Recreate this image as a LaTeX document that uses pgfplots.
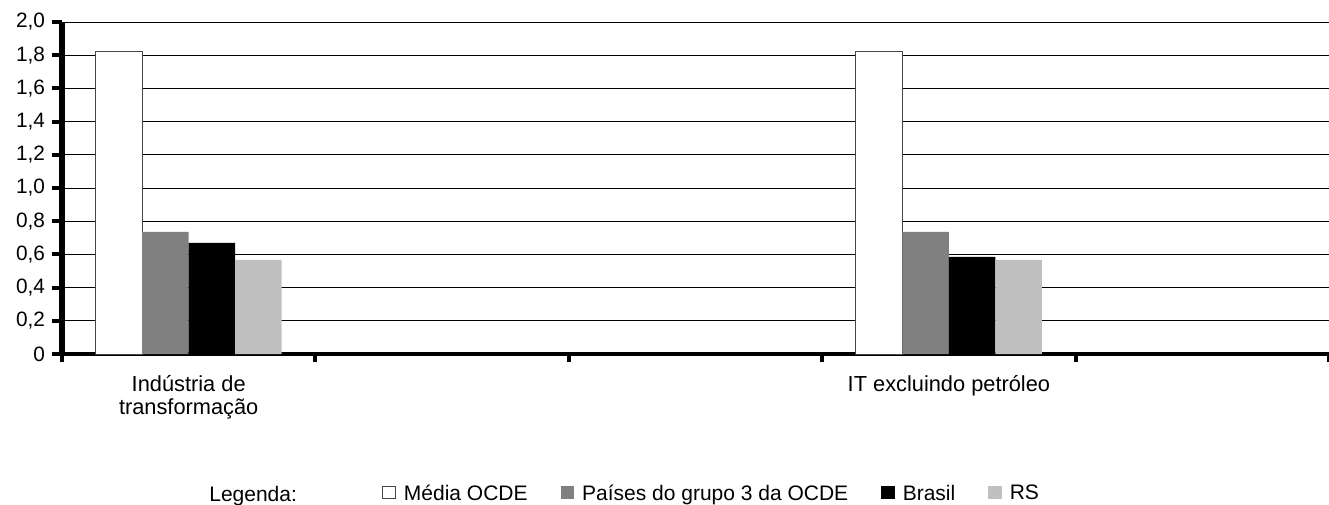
\documentclass[border=0pt]{standalone}
\usepackage{fontspec}
\setmainfont{Liberation Sans}
\usepackage{pgfplots}
\pgfplotsset{compat=1.18}
\definecolor{gA}{RGB}{128,128,128}
\definecolor{gB}{RGB}{192,192,192}
\definecolor{edgeC}{RGB}{70,70,70}
\begin{document}
\begin{tikzpicture}
\useasboundingbox (-31pt,-75pt) rectangle (633.5pt,177pt);
\begin{axis}[
  at={(0pt,0pt)}, anchor=south west,
  scale only axis, width=633.5pt, height=166pt,
  xmin=0, xmax=5, ymin=0, ymax=2,
  enlargelimits=false, clip=false,
  axis x line=bottom, axis y line=left,
  x axis line style={-, line width=2.25pt, black},
  y axis line style={-, line width=3pt, black},
  ybar=0pt, bar width=23.25pt,
  xtick={0.5,3.5},
  xticklabels={{Indústria de\\transformação},{IT excluindo petróleo}},
  x tick label style={align=center, yshift=-2.3pt, font=\fontsize{10.9}{11.2}\selectfont},
  major x tick style={draw=none},
  minor xtick={0,1,2,3,4,5},
  minor tick length=4pt,
  minor x tick style={line width=2pt, black},
  xtick align=outside, ytick align=outside,
  ytick={0,0.2,...,2.01},
  yticklabels={0,{0,2},{0,4},{0,6},{0,8},{1,0},{1,2},{1,4},{1,6},{1,8},{2,0}},
  y tick label style={font=\fontsize{10.4}{12}\selectfont},
  major y tick style={line width=2pt, black},
  major tick length=5pt,
  ymajorgrids,
  grid style={line width=0.5pt, black},
  legend columns=-1,
  legend style={draw=none, fill=none, inner sep=0pt, font=\fontsize{10.5}{12}\selectfont,
    at={(rel axis cs:0.2526,-0.4217)}, anchor=west,
    /tikz/every odd column/.append style={column sep=2pt},
    /tikz/every even column/.append style={column sep=14.5pt}},
]
\addplot[fill=white, draw=edgeC, line width=0.5pt,
  legend image code/.code={\draw[draw=edgeC, line width=0.5pt, fill=white] (0.25pt,-2.45pt) rectangle (6.5pt,3.8pt);}]
  coordinates {(0.5,1.82) (3.5,1.82)};
\addlegendentry{Média OCDE}
\addplot[fill=gA, draw=none,
  legend image code/.code={\fill[gA] (0pt,-2.7pt) rectangle (6.75pt,4.05pt);}]
  coordinates {(0.5,0.735) (3.5,0.735)};
\addlegendentry{Países do grupo 3 da OCDE}
\addplot[fill=black, draw=none,
  legend image code/.code={\fill[black] (0pt,-2.7pt) rectangle (6.75pt,4.05pt);}]
  coordinates {(0.5,0.67) (3.5,0.585)};
\addlegendentry{Brasil}
\addplot[fill=gB, draw=none,
  legend image code/.code={\fill[gB] (0pt,-2.7pt) rectangle (6.75pt,4.05pt);}]
  coordinates {(0.5,0.567) (3.5,0.567)};
\addlegendentry{RS}
\node[anchor=base west, inner sep=0pt, font=\fontsize{10.5}{12}\selectfont] at (rel axis cs:0.116,-0.4428) {Legenda:};
\end{axis}
\end{tikzpicture}
\end{document}
